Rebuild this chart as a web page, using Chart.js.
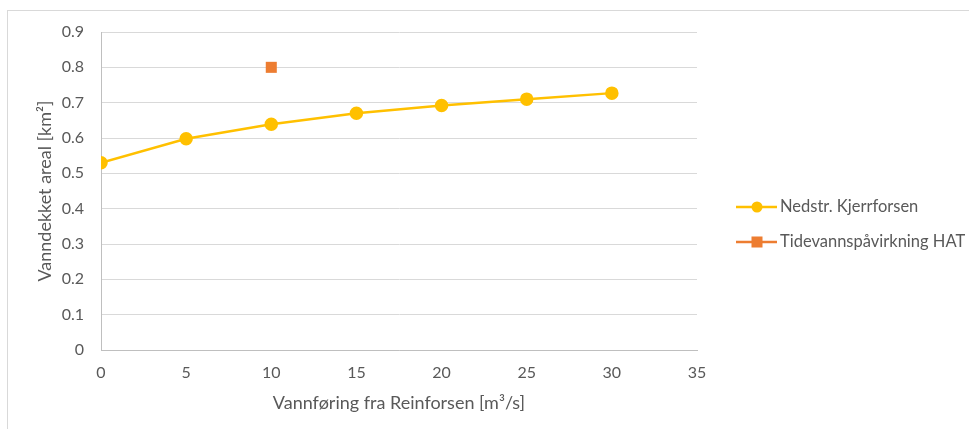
<!DOCTYPE html>
<html>
<head>
<meta charset="utf-8">
<script src="https://cdn.jsdelivr.net/npm/chart.js@4/dist/chart.umd.min.js"></script>
<style>
  html, body { margin: 0; padding: 0; background: #ffffff; }
  #wrap { position: relative; width: 969px; height: 429px; overflow: hidden; }
  #frame { position: absolute; left: 7px; top: 10px; right: -2px; bottom: -2px;
           border-top: 1px solid #d9d9d9; border-left: 1px solid #d9d9d9; }
  canvas { position: absolute; left: 0; top: 0; }
</style>
</head>
<body>
<div id="wrap">
  <div id="frame"></div>
  <canvas id="chart" width="969" height="429"></canvas>
</div>
<script>
// Flow rate from Reinforsen (m³/s) and water-covered area (km²)
const flowRates = [0, 5, 10, 15, 20, 25, 30];
const areaKjerrforsen = [0.53, 0.598, 0.639, 0.67, 0.692, 0.71, 0.727];

// Single tidal-influence point (HAT)
const tideFlow = [10];
const tideArea = [0.8];

const seriesNames = ['Nedstr. Kjerrforsen', 'Tidevannspåvirkning HAT'];
const seriesColors = ['#FFC000', '#ED7D31'];

const xTitle = 'Vannføring fra Reinforsen [m³/s]';
const yTitle = 'Vanndekket areal [km²]';

const xTicks = { min: 0, max: 35, step: 5 };
const yTicks = { min: 0, max: 0.9, step: 0.1 };

const FONT = 'Lato, "Open Sans", sans-serif';
const TEXT = '#595959';

const toPoints = (xs, ys) => xs.map((x, i) => ({ x: x, y: ys[i] }));

// Axis titles and the legend, drawn next to the plot area
const decorations = {
  id: 'decorations',
  afterDraw(chart) {
    const ctx = chart.ctx;
    const area = chart.chartArea;
    ctx.save();
    ctx.fillStyle = TEXT;
    ctx.font = '18px ' + FONT;
    ctx.textAlign = 'center';
    ctx.textBaseline = 'middle';
    ctx.fillText(xTitle, (area.left + area.right) / 2, 403);
    ctx.save();
    ctx.translate(45, (area.top + area.bottom) / 2);
    ctx.rotate(-Math.PI / 2);
    ctx.fillText(yTitle, 0, 0);
    ctx.restore();

    // legend entries: line with marker, then label
    const lx0 = 736, lx1 = 777, mx = 757, tx = 780;
    const rows = [207, 242];
    chart.data.datasets.forEach((ds, i) => {
      const y = rows[i];
      ctx.strokeStyle = ds.borderColor;
      ctx.lineWidth = 2.5;
      ctx.beginPath();
      ctx.moveTo(lx0, y);
      ctx.lineTo(lx1, y);
      ctx.stroke();
      ctx.fillStyle = ds.pointBackgroundColor;
      if (ds.pointStyle === 'rect') {
        ctx.fillRect(mx - 5.5, y - 5.5, 11, 11);
      } else {
        ctx.beginPath();
        ctx.arc(mx, y, 5.5, 0, Math.PI * 2);
        ctx.fill();
      }
      ctx.fillStyle = TEXT;
      ctx.font = '16.5px ' + FONT;
      ctx.textAlign = 'left';
      ctx.textBaseline = 'middle';
      ctx.fillText(ds.label, tx, y);
    });
    ctx.restore();
  }
};

new Chart(document.getElementById('chart'), {
  type: 'scatter',
  data: {
    datasets: [
      {
        label: seriesNames[0],
        data: toPoints(flowRates, areaKjerrforsen),
        showLine: true,
        borderColor: seriesColors[0],
        backgroundColor: seriesColors[0],
        pointBackgroundColor: seriesColors[0],
        pointBorderColor: seriesColors[0],
        borderWidth: 2.5,
        pointRadius: 5.5,
        pointStyle: 'circle',
        tension: 0
      },
      {
        label: seriesNames[1],
        data: toPoints(tideFlow, tideArea),
        showLine: false,
        borderColor: seriesColors[1],
        backgroundColor: seriesColors[1],
        pointBackgroundColor: seriesColors[1],
        pointBorderColor: seriesColors[1],
        pointRadius: 7.8,
        pointBorderWidth: 0,
        pointStyle: 'rect'
      }
    ]
  },
  options: {
    responsive: false,
    animation: false,
    layout: { padding: { left: 0, top: 32, right: 272, bottom: 0 } },
    plugins: {
      legend: { display: false },
      tooltip: { enabled: false }
    },
    scales: {
      x: {
        type: 'linear',
        min: xTicks.min,
        max: xTicks.max,
        grid: { display: false, drawTicks: false },
        border: { display: true, color: '#bfbfbf', width: 1 },
        ticks: { stepSize: xTicks.step, color: TEXT, font: { family: FONT, size: 16 }, padding: 13 },
        afterFit(scale) { scale.height = 79; }
      },
      y: {
        type: 'linear',
        min: yTicks.min,
        max: yTicks.max,
        grid: { color: '#d9d9d9', lineWidth: 1, drawTicks: false },
        border: { display: true, color: '#bfbfbf', width: 1 },
        ticks: {
          stepSize: yTicks.step,
          color: TEXT,
          font: { family: FONT, size: 16 },
          padding: 17,
          callback: v => String(Math.round(v * 10) / 10)
        },
        afterFit(scale) { scale.width = 101; }
      }
    }
  },
  plugins: [decorations]
});
</script>
</body>
</html>
